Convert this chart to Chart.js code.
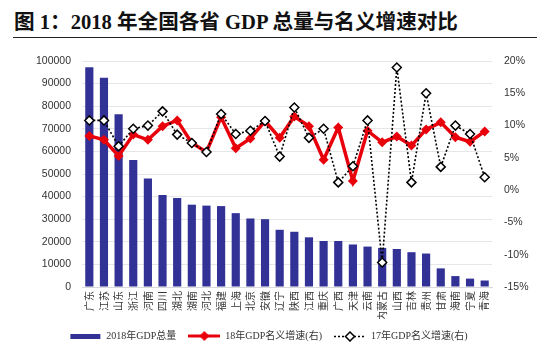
<!DOCTYPE html>
<html>
<head>
<meta charset="utf-8">
<script src="https://cdn.jsdelivr.net/npm/chart.js@4.4.1/dist/chart.umd.min.js"></script>
<style>
  html, body { margin: 0; padding: 0; background: #fff; }
  body { width: 537px; height: 351px; position: relative; overflow: hidden; }
  #title {
    position: absolute; left: 14px; top: 5px;
    font: bold 20.6px "Liberation Serif", "Noto Sans CJK SC", serif;
    color: #111; white-space: nowrap;
  }
  #rule { position: absolute; left: 13px; right: 0; top: 37px; height: 1px; background: #222; }
  #wrap { position: absolute; left: 0; top: 40px; width: 537px; height: 311px; }
</style>
</head>
<body>
<div id="title">图 1：2018 年全国各省 GDP 总量与名义增速对比</div>
<div id="rule"></div>
<div id="wrap"><canvas id="myChart"></canvas></div>
<script>
const provinces = ['广东', '江苏', '山东', '浙江', '河南', '四川', '湖北', '湖南', '河北', '福建',
  '上海', '北京', '安徽', '辽宁', '陕西', '江西', '重庆', '广西', '天津', '云南',
  '内蒙古', '山西', '吉林', '贵州', '甘肃', '海南', '宁夏', '青海'];

// 2018 GDP total (亿元)
const gdp2018 = [97278, 92595, 76470, 56197, 48056, 40678, 39367, 36426, 36010, 35804,
  32680, 30320, 30007, 25315, 24438, 21985, 20363, 20353, 18810, 17881,
  17289, 16818, 15400, 14806, 8246, 4832, 3705, 2865];

// nominal growth, %
const growth18 = [8.4, 7.8, 5.3, 8.6, 7.8, 9.9, 10.8, 7.3, 5.9, 11.3,
  6.5, 8.0, 10.7, 8.1, 11.4, 9.9, 4.7, 9.7, 1.4, 9.2,
  7.4, 8.3, 6.9, 9.4, 10.5, 8.2, 7.5, 9.1];
const growth17 = [10.8, 10.8, 6.8, 9.5, 10.0, 12.2, 8.6, 7.3, 5.9, 11.8,
  8.7, 9.2, 10.7, 5.2, 12.8, 8.1, 9.5, 1.2, 3.7, 10.8,
  -11.2, 19.0, 1.2, 15.0, 3.6, 10.0, 8.7, 2.0];

const leftTicks = [0, 100000, 10000];
const rightTicks = [-15, 20, 5];

const barColor = '#323296';
const redColor = '#e8000b';

// little images for the legend
function icon(draw) {
  const c = document.createElement('canvas');
  c.width = 32; c.height = 12;
  draw(c.getContext('2d'));
  return c;
}
const icons = [
  icon(ctx => { ctx.fillStyle = barColor; ctx.fillRect(1, 4, 30, 5); }),
  icon(ctx => {
    ctx.strokeStyle = redColor; ctx.lineWidth = 3;
    ctx.beginPath(); ctx.moveTo(0, 6); ctx.lineTo(32, 6); ctx.stroke();
    ctx.fillStyle = redColor;
    ctx.beginPath(); ctx.moveTo(16, 1); ctx.lineTo(21, 6); ctx.lineTo(16, 11); ctx.lineTo(11, 6); ctx.closePath(); ctx.fill();
  }),
  icon(ctx => {
    ctx.strokeStyle = '#000'; ctx.lineWidth = 1.5; ctx.setLineDash([2, 2]);
    ctx.beginPath(); ctx.moveTo(0, 6.5); ctx.lineTo(32, 6.5); ctx.stroke();
    ctx.setLineDash([]);
    ctx.fillStyle = '#fff';
    ctx.beginPath(); ctx.moveTo(16, 2); ctx.lineTo(20.5, 6.5); ctx.lineTo(16, 11); ctx.lineTo(11.5, 6.5); ctx.closePath();
    ctx.fill(); ctx.stroke();
  })
];

const tickFont = { family: '"Liberation Sans", Arial, sans-serif', size: 10.5 };

new Chart(document.getElementById('myChart'), {
  data: {
    labels: provinces,
    datasets: [
      {
        type: 'bar',
        label: '2018年GDP总量',
        data: gdp2018,
        backgroundColor: barColor,
        yAxisID: 'y',
        barPercentage: 0.9,
        categoryPercentage: 0.62,
        order: 3
      },
      {
        type: 'line',
        label: '18年GDP名义增速(右)',
        data: growth18,
        borderColor: redColor,
        backgroundColor: redColor,
        borderWidth: 3.5,
        pointStyle: 'rectRot',
        pointRadius: 5,
        pointBorderWidth: 0,
        tension: 0,
        yAxisID: 'y1',
        order: 2
      },
      {
        type: 'line',
        label: '17年GDP名义增速(右)',
        data: growth17,
        borderColor: '#000',
        backgroundColor: '#fff',
        borderWidth: 1.6,
        borderDash: [2, 2],
        pointStyle: 'rectRot',
        pointRadius: 4.5,
        pointBorderWidth: 1.5,
        pointBorderColor: '#000',
        pointBackgroundColor: '#fff',
        tension: 0,
        yAxisID: 'y1',
        order: 1
      }
    ]
  },
  options: {
    responsive: true,
    maintainAspectRatio: false,
    animation: false,
    layout: { padding: { top: 21, bottom: 0, left: 0, right: 0 } },
    plugins: {
      tooltip: { enabled: false },
      legend: {
        position: 'bottom',
        labels: {
          usePointStyle: true,
          pointStyleWidth: 32,
          padding: 12,
          color: '#333',
          font: { family: '"Liberation Serif", "Noto Sans CJK SC", serif', size: 10 },
          generateLabels: chart => chart.data.datasets.map((ds, i) => ({
            text: ds.label,
            pointStyle: icons[i],
            datasetIndex: i,
            hidden: false,
            lineWidth: 0,
            fontColor: '#333'
          }))
        }
      }
    },
    scales: {
      x: {
        grid: { display: false, drawTicks: false },
        border: { display: true, color: '#d9d9d9' },
        ticks: {
          minRotation: 90, maxRotation: 90, autoSkip: false, padding: 4,
          color: '#333',
          font: { family: '"Noto Sans CJK SC", sans-serif', size: 10 }
        },
        afterFit: s => { s.height = 32; }
      },
      y: {
        position: 'left',
        min: leftTicks[0], max: leftTicks[1],
        grid: { color: '#e6e6e6', drawTicks: false },
        border: { display: false },
        ticks: { stepSize: leftTicks[2], padding: 11, color: '#333', font: tickFont, callback: v => String(v) },
        afterFit: s => { s.width = 82; }
      },
      y1: {
        position: 'right',
        min: rightTicks[0], max: rightTicks[1],
        grid: { display: false, drawTicks: false },
        border: { display: false },
        ticks: { stepSize: rightTicks[2], padding: 12, color: '#333', font: tickFont, callback: v => v + '%' },
        afterFit: s => { s.width = 45; }
      }
    }
  }
});
</script>
</body>
</html>
